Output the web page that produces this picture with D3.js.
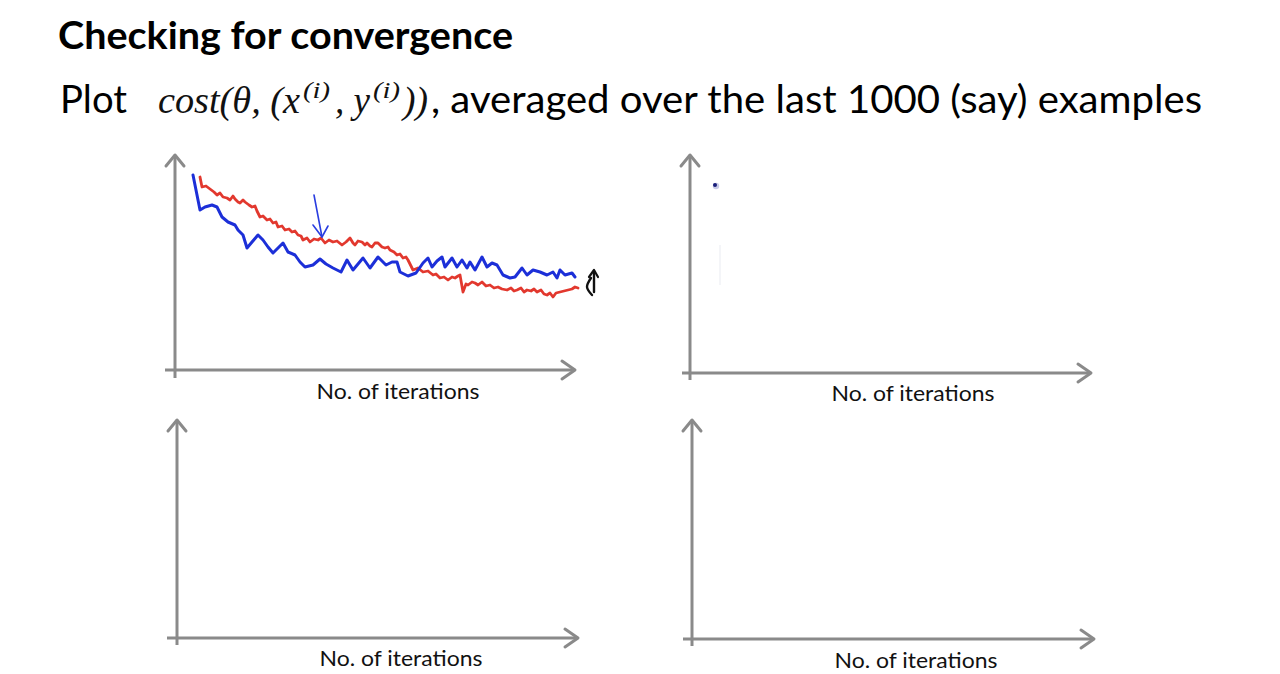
<!DOCTYPE html>
<html>
<head>
<meta charset="utf-8">
<script src="https://cdn.jsdelivr.net/npm/d3@7/dist/d3.min.js"></script>
<style>
  html, body { margin: 0; padding: 0; background: #ffffff; overflow: hidden; }
  svg { display: block; }
</style>
</head>
<body>
<svg id="chart" width="1280" height="674"></svg>
<script>
// ---------------- data ----------------
const titleText = "Checking for convergence";
const plotWord = "Plot";
const tailText = ", averaged over the last 1000 (say) examples";
const axisLabel = "No. of iterations";

// [iteration, cost] for the blue curve (top-left panel)
const blueSeries = [
  [18,195],[25,160],[30,163],[37,165],[42,163],[47,153],[53,148],[60,145],[63,140],[68,135],
  [72,122],[77,128],[83,135],[88,130],[93,123],[98,117],[103,122],[108,127],[113,118],[120,115],
  [125,108],[130,103],[138,105],[145,111],[151,106],[158,102],[166,98],[172,110],[178,100],[183,106],
  [188,112],[195,102],[203,113],[211,105],[217,108],[222,108],[225,98],[233,94],[241,97],[248,107],
  [253,112],[257,103],[262,109],[267,113],[270,103],[277,112],[282,103],[287,110],[292,102],[295,108],
  [300,100],[307,113],[312,103],[317,107],[322,105],[328,95],[335,92],[340,93],[347,102],[352,95],
  [358,100],[365,98],[372,95],[378,98],[382,92],[385,100],[390,95],[397,97],[400,93]
];

// [iteration, cost] for the red curve (top-left panel)
const redSeries = [
  [25,193],[27,183],[31,184],[35,181],[39,178],[42,175],[45,177],[48,173],[52,172],[55,170],
  [58,174],[60,171],[63,168],[65,167],[68,170],[70,168],[74,165],[77,163],[80,164],[82,159],
  [85,153],[88,154],[92,150],[95,151],[98,147],[101,148],[103,143],[107,144],[110,140],[114,141],
  [117,138],[120,139],[123,135],[126,134],[128,130],[132,132],[135,128],[139,131],[143,130],[146,132],
  [150,127],[154,130],[158,128],[162,129],[167,125],[171,128],[175,132],[178,127],[180,125],[183,129],
  [187,128],[190,125],[192,127],[195,124],[197,123],[200,127],[203,127],[207,123],[210,122],[213,123],
  [215,120],[219,118],[222,115],[225,116],[228,112],[231,113],[233,110],[235,106],[238,100],[243,102],
  [248,98],[253,99],[258,95],[261,96],[265,92],[269,93],[273,90],[277,93],[280,92],[283,94],
  [285,95],[288,78],[291,86],[293,85],[297,88],[300,87],[303,85],[307,88],[311,84],[315,85],
  [319,82],[323,83],[327,81],[332,80],[336,82],[339,79],[342,80],[346,82],[349,78],[352,80],
  [356,79],[359,81],[362,78],[366,80],[369,76],[372,75],[375,77],[378,73],[381,77],[385,78],
  [389,79],[393,80],[397,81],[400,83],[403,82]
];

// hand-drawn blue arrow pointing at the red curve: [iteration, cost]
const blueArrowShaft = [[139,175],[147,133]];
const blueArrowHead = [[138,145],[147,133],[153,144]];

// black up-arrow mark to the right of the curves
const blackMarkShaft = [[419,99],[419,78]];
const blackMarkCurl = [[416,92],[412,83],[417,75]];
const blackMarkHead = [[414,93],[419,100],[423,93]];

// single dot in the top-right panel
const dotPoint = [[25,188]];
const faintStroke = [[30,128],[30,88]];

// ---------------- layout ----------------
const svg = d3.select("#chart");
const axisColor = "#8a8a8a";

const panels = [
  { ax: 175, ay: 370, xStart: 165, xTip: 575, yTop: 155, yBottom: 378, lx: 398, ly: 399 },
  { ax: 690, ay: 373, xStart: 682, xTip: 1091, yTop: 155, yBottom: 380, lx: 913, ly: 401 },
  { ax: 177, ay: 638, xStart: 167, xTip: 578, yTop: 420, yBottom: 645, lx: 401, ly: 666 },
  { ax: 692, ay: 639, xStart: 683, xTip: 1094, yTop: 420, yBottom: 646, lx: 916, ly: 668 }
];

const sans = "Lato, 'Open Sans', 'DejaVu Sans', sans-serif";
const serif = "'Liberation Serif', 'DejaVu Serif', serif";

// titles
svg.append("text")
  .attr("x", 58).attr("y", 49)
  .attr("font-family", sans).attr("font-weight", 700)
  .attr("font-size", 38).attr("fill", "#000")
  .attr("textLength", 455).attr("lengthAdjust", "spacingAndGlyphs")
  .text(titleText);

svg.append("text")
  .attr("x", 60).attr("y", 113)
  .attr("font-family", sans).attr("font-size", 38).attr("fill", "#000")
  .attr("textLength", 67).attr("lengthAdjust", "spacingAndGlyphs")
  .text(plotWord);

// math expression pieces
const mathPieces = [
  { t: "cost(θ, (x", x: 158, y: 113, size: 37, len: 142 },
  { t: "(i)",        x: 303, y: 98,  size: 23, len: 27 },
  { t: ", y",        x: 335, y: 113, size: 37, len: 35 },
  { t: "(i)",        x: 373, y: 98,  size: 23, len: 27 },
  { t: "))",         x: 403, y: 113, size: 37, len: 25 }
];
svg.selectAll("text.math").data(mathPieces).join("text")
  .attr("class", "math")
  .attr("x", d => d.x).attr("y", d => d.y)
  .attr("font-family", serif).attr("font-style", "italic")
  .attr("font-size", d => d.size).attr("fill", "#111")
  .attr("textLength", d => d.len).attr("lengthAdjust", "spacingAndGlyphs")
  .text(d => d.t);

svg.append("text")
  .attr("x", 431).attr("y", 113)
  .attr("font-family", sans).attr("font-size", 38).attr("fill", "#000")
  .attr("textLength", 771).attr("lengthAdjust", "spacingAndGlyphs")
  .text(tailText);

// axes with open arrowheads
panels.forEach(p => {
  const g = svg.append("g");
  g.append("line")
    .attr("x1", p.ax).attr("y1", p.yBottom).attr("x2", p.ax).attr("y2", p.yTop)
    .attr("stroke", axisColor).attr("stroke-width", 3);
  g.append("line")
    .attr("x1", p.xStart).attr("y1", p.ay).attr("x2", p.xTip).attr("y2", p.ay)
    .attr("stroke", axisColor).attr("stroke-width", 3);
  g.append("path")
    .attr("d", `M${p.ax - 9},${p.yTop + 11} L${p.ax},${p.yTop} L${p.ax + 9},${p.yTop + 11}`)
    .attr("fill", "none").attr("stroke", axisColor).attr("stroke-width", 3)
    .attr("stroke-linejoin", "round").attr("stroke-linecap", "round");
  g.append("path")
    .attr("d", `M${p.xTip - 13},${p.ay - 9} L${p.xTip},${p.ay} L${p.xTip - 13},${p.ay + 9}`)
    .attr("fill", "none").attr("stroke", axisColor).attr("stroke-width", 3)
    .attr("stroke-linejoin", "round").attr("stroke-linecap", "round");
  g.append("text")
    .attr("x", p.lx).attr("y", p.ly)
    .attr("text-anchor", "middle")
    .attr("font-family", sans).attr("font-size", 22).attr("fill", "#111")
    .attr("textLength", 163).attr("lengthAdjust", "spacingAndGlyphs")
    .text(axisLabel);
});

// ---------------- top-left panel curves ----------------
const p1 = panels[0];
const x1 = d3.scaleLinear().domain([0, 400]).range([p1.ax, p1.ax + 400]);
const y1 = d3.scaleLinear().domain([0, 215]).range([p1.ay, p1.ay - 215]);
const line1 = d3.line().x(d => x1(d[0])).y(d => y1(d[1])).curve(d3.curveLinear);

svg.append("path").datum(redSeries)
  .attr("d", line1).attr("fill", "none")
  .attr("stroke", "#e2382e").attr("stroke-width", 2.8)
  .attr("stroke-linejoin", "round").attr("stroke-linecap", "round");

svg.append("path").datum(blueSeries)
  .attr("d", line1).attr("fill", "none")
  .attr("stroke", "#1c2fd8").attr("stroke-width", 3)
  .attr("stroke-linejoin", "round").attr("stroke-linecap", "round");

// blue annotation arrow
[blueArrowShaft, blueArrowHead].forEach(seg => {
  svg.append("path").datum(seg)
    .attr("d", line1).attr("fill", "none")
    .attr("stroke", "#2a3ee0").attr("stroke-width", 1.6)
    .attr("stroke-linejoin", "round").attr("stroke-linecap", "round");
});

// black mark
const curlLine = d3.line().x(d => x1(d[0])).y(d => y1(d[1])).curve(d3.curveCatmullRom);
svg.append("path").datum(blackMarkShaft)
  .attr("d", line1).attr("fill", "none")
  .attr("stroke", "#111").attr("stroke-width", 2.4).attr("stroke-linecap", "round");
svg.append("path").datum(blackMarkCurl)
  .attr("d", curlLine).attr("fill", "none")
  .attr("stroke", "#111").attr("stroke-width", 2.4).attr("stroke-linecap", "round");
svg.append("path").datum(blackMarkHead)
  .attr("d", line1).attr("fill", "none")
  .attr("stroke", "#111").attr("stroke-width", 2.2)
  .attr("stroke-linejoin", "round").attr("stroke-linecap", "round");

// ---------------- top-right panel dot ----------------
const p2 = panels[1];
const x2 = d3.scaleLinear().domain([0, 400]).range([p2.ax, p2.ax + 400]);
const y2 = d3.scaleLinear().domain([0, 218]).range([p2.ay, p2.ay - 218]);
svg.append("path").datum(faintStroke)
  .attr("d", d3.line().x(d => x2(d[0])).y(d => y2(d[1])))
  .attr("stroke", "#f1f2f6").attr("stroke-width", 1.5).attr("fill", "none");
svg.selectAll("circle.halo").data(dotPoint).join("circle")
  .attr("class", "halo")
  .attr("cx", d => x2(d[0]) + 1).attr("cy", d => y2(d[1]) + 1).attr("r", 3.2)
  .attr("fill", "#c9cbe6");
svg.selectAll("circle.dot").data(dotPoint).join("circle")
  .attr("class", "dot")
  .attr("cx", d => x2(d[0])).attr("cy", d => y2(d[1])).attr("r", 2)
  .attr("fill", "#1a1f7a");
</script>
</body>
</html>
